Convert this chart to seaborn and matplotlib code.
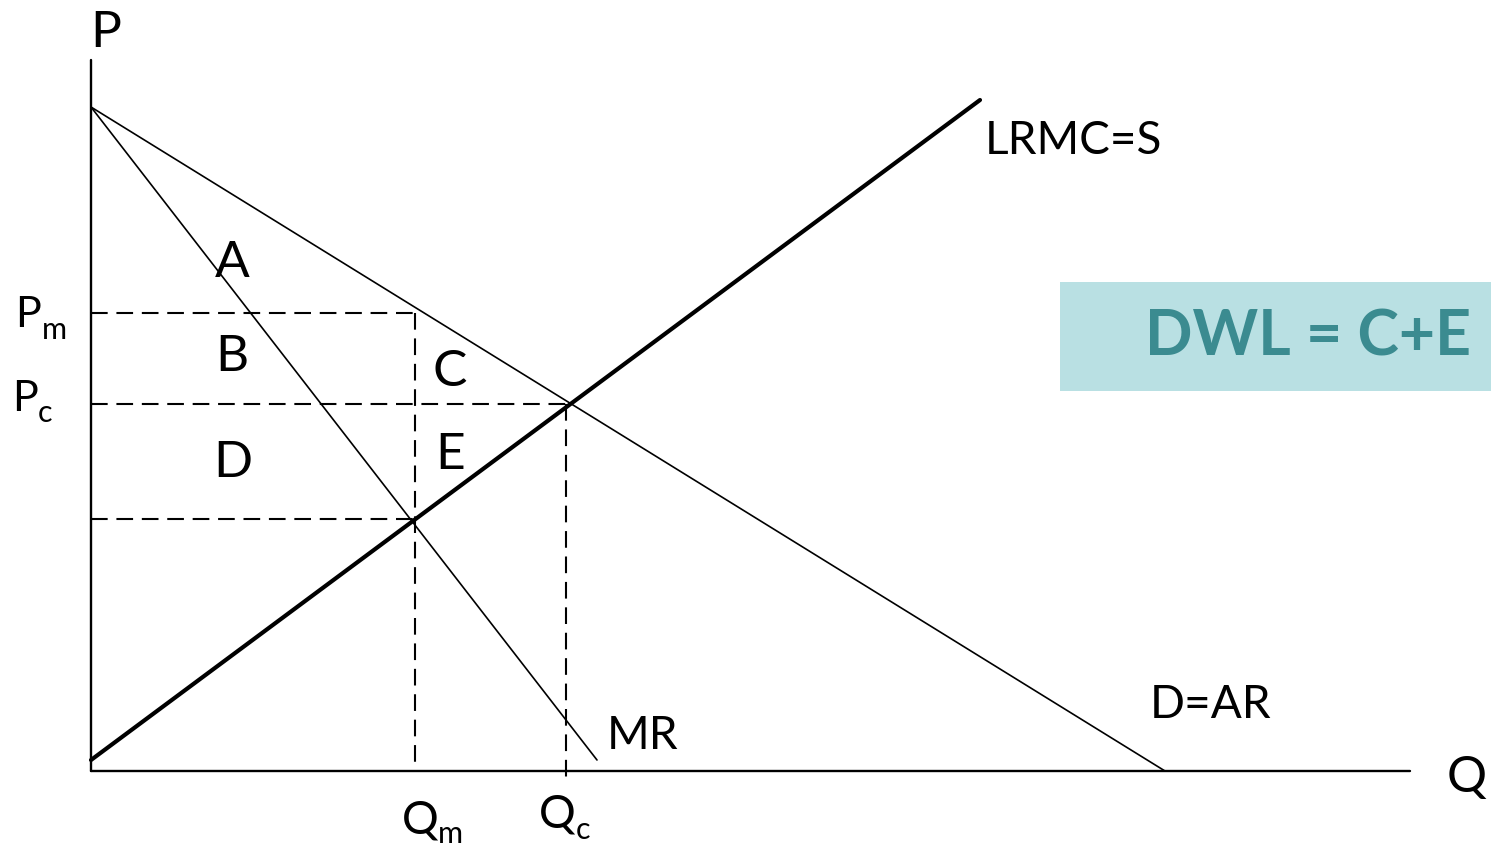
import numpy as np
import pandas as pd
import matplotlib.pyplot as plt
import seaborn as sns

# quantities / prices (pixel-like units, origin at axes corner)
demand_q = [0, 1074]
demand_p = [664, 0]
mr_q = [0, 506]
mr_p = [664, 11]
lrmc_q = [0, 889]
lrmc_p = [11, 671]

q_m, q_c = 324, 475
p_m, p_c, mc_m = 458, 367, 252

sns.set_theme(style='white')
plt.rcParams['font.family'] = ['Lato', 'DejaVu Sans']
plt.rcParams['text.color'] = 'black'

fig = plt.figure(figsize=(14.91, 8.48), dpi=100)
ax = fig.add_axes([0, 0, 1, 1])
ax.set_xlim(-91, 1400)
ax.set_ylim(-77, 771)
ax.axis('off')

# axes
ax.plot([0, 0], [0, 711], color='black', lw=1.7)
ax.plot([0, 1319], [0, 0], color='black', lw=1.7)

# curves
sns.lineplot(x=demand_q, y=demand_p, ax=ax, color='black', lw=1.2, sort=False)
sns.lineplot(x=mr_q, y=mr_p, ax=ax, color='black', lw=1.2, sort=False)
sns.lineplot(x=lrmc_q, y=lrmc_p, ax=ax, color='black', lw=3.0, sort=False)

# dashed guides
dash = (0, (8, 4.2))
kw = dict(color='black', lw=1.5, linestyle=dash)
ax.plot([0, q_m], [p_m, p_m], **kw)
ax.plot([q_m, q_m], [p_m, 0], **kw)
ax.plot([0, q_c], [p_c, p_c], **kw)
ax.plot([q_c, q_c], [p_c, -7], **kw)
ax.plot([0, q_m], [mc_m, mc_m], **kw)

fs = 33
def px(x, y):
    return x - 91, 771 - y

def label(s, x, y, size=fs, **k):
    ax.text(*px(x, y), s, fontsize=size, ha='center', va='center', **k)

label('P', 106, 33, size=37)
label('Q', 1467, 778, size=36)
label('LRMC=S', 1073, 141)
label('D=AR', 1211, 705)
label('MR', 643, 736)
for s, x, y in [('A', 232, 263), ('B', 232, 357), ('C', 450, 372),
                ('D', 233, 463), ('E', 450, 455)]:
    label(s, x, y, size=37)

# subscripted labels
label('P', 28, 315, size=31)
label('m', 54, 330, size=22)
label('P', 25, 399, size=31)
label('c', 45, 413, size=22)
label('Q', 420, 820)
label('m', 450, 834, size=22)
label('Q', 557, 815)
label('c', 583, 830, size=22)

# DWL box
x0, y0 = px(1060, 391)
ax.add_patch(plt.Rectangle((x0, y0), 431, 109, color='#b9e0e3', lw=0))
ax.text(*px(1471, 338), 'DWL = C+E', fontsize=45, fontweight='bold',
        color='#3b8b90', ha='right', va='center')

fig.savefig('out.png', dpi=100)
